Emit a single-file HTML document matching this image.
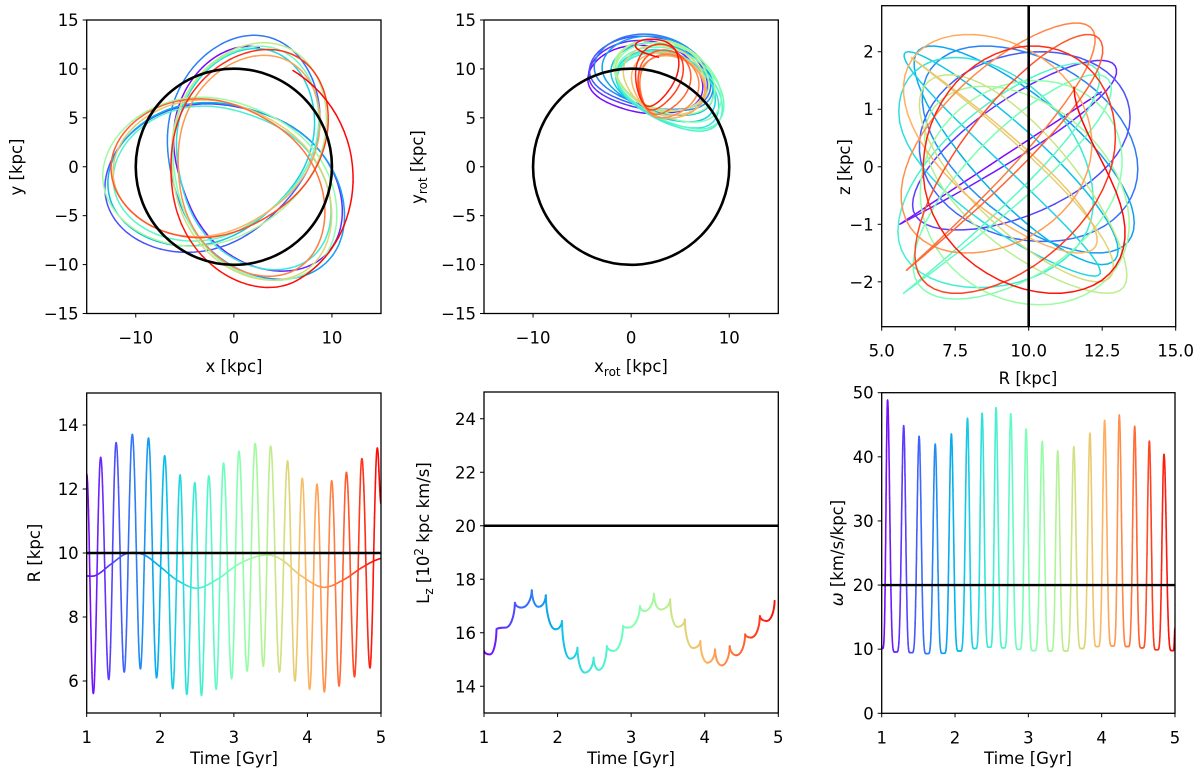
<!DOCTYPE html>
<html><head><meta charset="utf-8"><style>
html,body{margin:0;padding:0;background:#fff}
svg text{font-family:"DejaVu Sans","Liberation Sans",sans-serif;fill:#000}
</style></head><body>
<svg id="fig" width="1200" height="778" viewBox="0 0 1200 778" xmlns="http://www.w3.org/2000/svg"></svg>
<script>
// ---- data: radius extrema (time [Gyr], R [kpc]) ----
const rTimes=[1.0,1.09,1.19,1.30,1.40,1.51,1.62,1.73,1.84,1.95,2.06,2.17,2.27,2.36,2.47,2.56,2.66,2.76,2.86,2.97,3.07,3.18,3.29,3.40,3.50,3.62,3.73,3.83,3.93,4.03,4.13,4.23,4.33,4.43,4.53,4.64,4.74,4.85,4.95,5.0];
const rValues=[12.47,5.61,12.99,6.05,13.45,6.28,13.71,6.38,13.59,6.10,13.04,5.76,12.44,5.58,12.2,5.55,12.41,5.74,12.81,6.07,13.18,6.31,13.42,6.46,13.34,6.28,12.88,6.0,12.33,5.74,12.15,5.66,12.26,5.84,12.52,6.13,12.95,6.41,13.28,11.54];
// guiding radius
const gTimes=[1.0,1.13,1.31,1.54,1.77,2.0,2.22,2.49,2.76,3.08,3.40,3.62,3.90,4.21,4.49,4.76,5.0];
const gValues=[9.28,9.31,9.62,9.98,9.95,9.57,9.16,8.90,9.16,9.67,9.93,9.83,9.31,8.93,9.16,9.57,9.83];
// angular momentum: cusp/top sequence
const lzTimes=[1.0,1.08,1.17,1.29,1.42,1.51,1.65,1.74,1.84,1.97,2.06,2.17,2.27,2.37,2.49,2.56,2.67,2.76,2.89,2.96,3.12,3.18,3.31,3.40,3.53,3.63,3.73,3.84,3.94,4.04,4.14,4.23,4.34,4.43,4.55,4.63,4.75,4.84,4.95,5.0];
const lzValues=[15.32,15.19,16.13,16.19,17.12,16.94,17.59,16.97,17.40,16.13,16.44,15.03,15.44,14.51,15.07,14.61,15.50,15.32,16.25,16.19,17.0,16.81,17.46,16.87,17.25,16.22,16.5,15.43,15.69,14.88,15.38,14.78,15.50,15.16,15.94,15.82,16.62,16.44,17.19,17.25];
// angular speed extrema
const wTimes=[1.0,1.08,1.19,1.30,1.40,1.51,1.62,1.73,1.84,1.95,2.06,2.17,2.27,2.37,2.47,2.56,2.66,2.76,2.87,2.97,3.07,3.19,3.30,3.40,3.51,3.62,3.73,3.84,3.94,4.04,4.15,4.24,4.35,4.45,4.55,4.65,4.75,4.85,4.97,5.0];
const wValues=[10.1,48.86,9.56,44.86,9.45,43.19,9.3,42.0,9.35,43.56,9.7,46.0,10.1,46.8,10.3,47.66,10.2,46.73,9.98,44.33,9.77,42.4,9.7,40.9,9.7,41.58,10.1,43.7,10.4,45.69,10.5,46.52,10.4,44.75,10.2,42.46,9.9,40.4,9.77,13.3];
// vertical extrema
const zTimes=[1.0,1.09,1.21,1.33,1.45,1.57,1.69,1.81,1.93,2.04,2.16,2.28,2.40,2.52,2.64,2.76,2.88,3.00,3.12,3.24,3.36,3.48,3.59,3.71,3.83,3.95,4.07,4.19,4.31,4.43,4.55,4.67,4.79,4.91,5.03];
const zValues=[1.3,-1.0,1.85,-1.1,2.0,-1.3,2.1,-1.5,2.1,-1.7,2.0,-1.9,1.9,-2.1,1.8,-2.2,1.6,-2.3,1.5,-2.4,1.4,-2.2,1.6,-2.0,1.9,-1.5,2.3,-1.5,2.5,-1.8,2.3,-2.2,2.1,-2.2,2.0];
// rotating-frame loop guiding angle & amplitude per radial cycle (deg)
const loopCenterDeg=[82,80,79,77,74,70,66,63,62,63,66,70,72,70,66,64,66,70,74,76,76];
const loopAmpDeg=[36,36,36,35,34,33,34,36,37,36,33,30,28,26,25,22,18,15,13,12,12];
// lab-frame azimuth: start angle and advance per half radial cycle (deg)
const labStartDeg=78, labHalfAdvanceDeg=119.5;
const refR=10, refLz=20, refW=20;

const NS='http://www.w3.org/2000/svg';
const svg=document.getElementById('fig');
function el(tag,attrs,parent){const e=document.createElementNS(NS,tag);for(const k in attrs)e.setAttribute(k,attrs[k]);(parent||svg).appendChild(e);return e;}
function rainbow(x){const r=Math.min(1,Math.abs(2*x-0.5)),g=Math.sin(Math.PI*x),b=Math.cos(Math.PI*x/2);return `rgb(${Math.round(r*255)},${Math.round(g*255)},${Math.round(b*255)})`;}
function seg(T,V,t){let i=0;while(i<T.length-2&&t>T[i+1])i++;const s=Math.max(0,Math.min(1,(t-T[i])/(T[i+1]-T[i])));return {i,s};}
function cosInterp(T,V,t){const {i,s}=seg(T,V,t);return V[i]+(V[i+1]-V[i])*(1-Math.cos(Math.PI*s))/2;}
function spikeInterp(T,V,t){const {i,s}=seg(T,V,t);const lo=Math.min(V[i],V[i+1]),hi=Math.max(V[i],V[i+1]);let c=(1-Math.cos(Math.PI*s))/2;if(V[i]>V[i+1])c=1-c;return lo+(hi-lo)*c*c*c;}
function catmull(T,V,t){const {i,s}=seg(T,V,t);const p0=V[Math.max(0,i-1)],p1=V[i],p2=V[i+1],p3=V[Math.min(V.length-1,i+2)];return 0.5*((2*p1)+(-p0+p2)*s+(2*p0-5*p1+4*p2-p3)*s*s+(-p0+3*p1-3*p2+p3)*s*s*s);}
function loopAngle(t){const {i,s}=seg(rTimes,rValues,t);const u=(i%2===0)?s/2:0.5+s/2;const k=Math.floor(i/2)+u;const k0=Math.min(loopCenterDeg.length-2,Math.floor(k)),f=k-k0;
 const c=loopCenterDeg[k0]+(loopCenterDeg[k0+1]-loopCenterDeg[k0])*f,a=loopAmpDeg[k0]+(loopAmpDeg[k0+1]-loopAmpDeg[k0])*f;return (c+a*Math.sin(2*Math.PI*u))*Math.PI/180;}
function labAngle(t){const {i,s}=seg(rTimes,rValues,t);const kk=0.35;const apo=(rValues[i]>rValues[i+1]);
 const f=apo? s-kk*Math.sin(Math.PI*s)/Math.PI : s+kk*Math.sin(Math.PI*s)/Math.PI;return (labStartDeg+labHalfAdvanceDeg*(i+f))*Math.PI/180;}

function panel(name,L,R,T,B,x0,x1,y0,y1){const g=el('g',{});
 const cid='clip-'+name;const cp=el('clipPath',{id:cid},g);el('rect',{x:L,y:T,width:R-L,height:B-T},cp);
 const inner=el('g',{'clip-path':`url(#${cid})`},g);
 return {g,inner,L,R,T,B,sx:v=>L+(v-x0)/(x1-x0)*(R-L),sy:v=>B-(v-y0)/(y1-y0)*(B-T)};}
function frame(p){const r=el('rect',{x:p.L,y:p.T,width:p.R-p.L,height:p.B-p.T,fill:'none',stroke:'#000','stroke-width':1.3},p.g);}
function xticks(p,vals,labels){vals.forEach((v,j)=>{const x=p.sx(v);el('line',{x1:x,x2:x,y1:p.B,y2:p.B+4,stroke:'#000','stroke-width':1},p.g);
 const t=el('text',{x:x,y:p.B+30,'font-size':16.5,'text-anchor':'middle'},p.g);t.textContent=labels[j];});}
function yticks(p,vals,labels){vals.forEach((v,j)=>{const y=p.sy(v);el('line',{x1:p.L-4,x2:p.L,y1:y,y2:y,stroke:'#000','stroke-width':1},p.g);
 const t=el('text',{x:p.L-8,y:y+6,'font-size':16.5,'text-anchor':'end'},p.g);t.textContent=labels[j];});}
function label(p,html,x,y,rot,nm){const t=el('text',{x:x,y:y,'font-size':16.5,'text-anchor':'middle'},p.g);if(rot)t.setAttribute('transform',`rotate(-90 ${x} ${y})`);t.innerHTML=html;}
function colored(p,fx,fy,dt,w){const N=Math.round(4/dt);const chunk=6;for(let s=0;s<N;s+=chunk){const pts=[];for(let k=s;k<=Math.min(N,s+chunk);k++){const t=1+k*dt;pts.push(p.sx(fx(t)).toFixed(1)+','+p.sy(fy(t)).toFixed(1));}
 const pl=el('polyline',{points:pts.join(' '),fill:'none',stroke:rainbow((s+chunk/2)*dt/4),'stroke-width':w,'stroke-linejoin':'round','stroke-linecap':'round'},p.inner);}}
const ticksSym=[-15,-10,-5,0,5,10,15],ticksSymL=['\u221215','\u221210','\u22125','0','5','10','15'];

// Panel 1: x-y
let p=panel('xy-panel',86.7,381,20,313.5,-15,15,-15,15);
colored(p,t=>cosInterp(rTimes,rValues,t)*Math.cos(labAngle(t)),t=>cosInterp(rTimes,rValues,t)*Math.sin(labAngle(t)),0.0015,1.5);
let c=el('circle',{cx:p.sx(0),cy:p.sy(0),r:p.sx(refR)-p.sx(0),fill:'none',stroke:'#000','stroke-width':2.6},p.inner);
frame(p);xticks(p,[-10,0,10],['\u221210','0','10']);yticks(p,ticksSym,ticksSymL);
label(p,'x [kpc]',234,372,false,'x-axis-title');label(p,'y [kpc]',22,167,true,'y-axis-title');

// Panel 2: rotating frame
p=panel('xrot-yrot-panel',484,778.3,20,313.5,-15,15,-15,15);
colored(p,t=>cosInterp(rTimes,rValues,t)*Math.cos(loopAngle(t)),t=>cosInterp(rTimes,rValues,t)*Math.sin(loopAngle(t)),0.0015,1.5);
c=el('circle',{cx:p.sx(0),cy:p.sy(0),r:p.sx(refR)-p.sx(0),fill:'none',stroke:'#000','stroke-width':2.6},p.inner);
frame(p);xticks(p,[-10,0,10],['\u221210','0','10']);yticks(p,ticksSym,ticksSymL);
label(p,'x<tspan font-size="12" dy="4">rot</tspan><tspan dy="-4"> [kpc]</tspan>',631,372,false,'xrot-axis-title');
label(p,'y<tspan font-size="12" dy="4">rot</tspan><tspan dy="-4"> [kpc]</tspan>',423,167,true,'yrot-axis-title');

// Panel 3: R-z
p=panel('r-z-panel',881.7,1175.7,5.7,326.7,5,15,-2.78,2.8);
colored(p,t=>cosInterp(rTimes,rValues,t),t=>cosInterp(zTimes,zValues,t),0.004,1.5);
let ln=el('line',{x1:p.sx(refR),x2:p.sx(refR),y1:p.T,y2:p.B,stroke:'#000','stroke-width':2.6},p.inner);
frame(p);xticks(p,[5,7.5,10,12.5,15],['5.0','7.5','10.0','12.5','15.0']);yticks(p,[-2,-1,0,1,2],['\u22122','\u22121','0','1','2']);
label(p,'R [kpc]',1028,384,false,'r-axis-title');label(p,'z [kpc]',850,167,true,'z-axis-title');

// Panel 4: R(t)
p=panel('radius-time-panel',86.7,381,393,713,1,5,5,15);
colored(p,t=>t,t=>cosInterp(rTimes,rValues,t),0.002,1.6);
colored(p,t=>t,t=>catmull(gTimes,gValues,t),0.004,1.6);
ln=el('line',{x1:p.L,x2:p.R,y1:p.sy(refR),y2:p.sy(refR),stroke:'#000','stroke-width':2.4},p.inner);
frame(p);xticks(p,[1,2,3,4,5],['1','2','3','4','5']);yticks(p,[6,8,10,12,14],['6','8','10','12','14']);
label(p,'Time [Gyr]',234,764,false,'time-axis-title');label(p,'R [kpc]',40,553,true,'radius-axis-title');

// Panel 5: Lz(t)
p=panel('lz-time-panel',484,778.3,392,713,1,5,13,25);
for(let i=0;i+2<lzTimes.length;i+=2){const a=[p.sx(lzTimes[i]),p.sy(lzValues[i])],b=[p.sx(lzTimes[i+1]),p.sy(lzValues[i+1])],e=[p.sx(lzTimes[i+2]),p.sy(lzValues[i+2])];
 const dx1=b[0]-a[0],dx2=e[0]-b[0];
 const d1=`M${a[0]},${a[1]} C${a[0]+dx1*0.05},${a[1]+(b[1]-a[1])*0.6} ${b[0]-dx1*0.5},${b[1]} ${b[0]},${b[1]}`;
 const d2=`M${b[0]},${b[1]} C${b[0]+dx2*0.5},${b[1]} ${e[0]-dx2*0.05},${e[1]+(b[1]-e[1])*0.6} ${e[0]},${e[1]}`;
 [[d1,(lzTimes[i]+lzTimes[i+1])/2],[d2,(lzTimes[i+1]+lzTimes[i+2])/2]].forEach(q=>{const pa=el('path',{d:q[0],fill:'none',stroke:rainbow((q[1]-1)/4),'stroke-width':2,'stroke-linecap':'round'},p.inner);});}
ln=el('line',{x1:p.L,x2:p.R,y1:p.sy(refLz),y2:p.sy(refLz),stroke:'#000','stroke-width':2.4},p.inner);
frame(p);xticks(p,[1,2,3,4,5],['1','2','3','4','5']);yticks(p,[14,16,18,20,22,24],['14','16','18','20','22','24']);
label(p,'Time [Gyr]',631,764,false,'time-axis-title');
label(p,'L<tspan font-size="12" dy="4">z</tspan><tspan dy="-4"> [10</tspan><tspan font-size="12" dy="-6">2</tspan><tspan dy="6"> kpc km/s]</tspan>',429,533,true,'lz-axis-title');

// Panel 6: omega(t)
p=panel('omega-time-panel',881.7,1175,392.7,713.3,1,5,0,50);
colored(p,t=>t,t=>spikeInterp(wTimes,wValues,t),0.001,1.6);
ln=el('line',{x1:p.L,x2:p.R,y1:p.sy(refW),y2:p.sy(refW),stroke:'#000','stroke-width':2.4},p.inner);
frame(p);xticks(p,[1,2,3,4,5],['1','2','3','4','5']);yticks(p,[0,10,20,30,40,50],['0','10','20','30','40','50']);
label(p,'Time [Gyr]',1028,764,false,'time-axis-title');
label(p,'<tspan font-style="italic">\u03c9</tspan> [km/s/kpc]',843,553,true,'omega-axis-title');
</script>
</body></html>
